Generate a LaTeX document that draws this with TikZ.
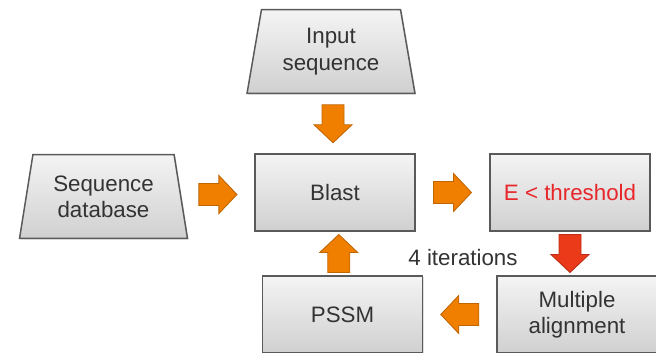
\documentclass[tikz,border=0pt]{standalone}
\usepackage{fontspec}
\setmainfont{Liberation Sans}
\usetikzlibrary{shapes.geometric,calc,shadows}
\definecolor{boxline}{HTML}{5A5A5A}
\definecolor{boxtop}{HTML}{F4F4F4}
\definecolor{boxbot}{HTML}{D0D0D0}
\definecolor{arrorange}{HTML}{F07F00}
\definecolor{arrred}{HTML}{EA3A1A}
\definecolor{threshred}{HTML}{E8262A}
\definecolor{txt}{HTML}{333333}

\begin{document}
\begin{tikzpicture}[x=0.02cm,y=0.02cm,
  every node/.style={font=\fontsize{12.7}{15}\selectfont,text=txt,align=center},
  box/.style={draw=boxline,line width=0.85pt,top color=boxtop,bottom color=boxbot,
    minimum width=3.2cm,minimum height=1.54cm,
    drop shadow={opacity=0.25,shadow xshift=0.7pt,shadow yshift=-0.7pt}},
  datain/.style={box,trapezium,trapezium angle=76,trapezium stretches body,
    minimum width=3.36cm,minimum height=1.68cm},
  blockarrow/.pic={\path[pic actions] (-19,-11) -- (1,-11) -- (1,-19) -- (19,0)
    -- (1,19) -- (1,11) -- (-19,11) -- cycle;}]
\useasboundingbox (0,0) rectangle (656,352);
% sources
\node[datain] (inseq) at (331,300.5) {Input\\sequence};
\node[datain] (seqdb) at (103.5,155.5) {Sequence\\database};
% the search loop
\node[box] (blast) at (335,159.5) {Blast};
\node[box,text=threshred] (ethr) at (570,159.5) {E < threshold};
\node[box] (pssm) at (342.5,37.5) {PSSM};
\node[box] (malign) at (577,37.5) {Multiple\\alignment};
\node (iter) at (463,94) {4 iterations};
% block arrows between the boxes
\foreach \a/\b/\ang in {inseq.south/blast.north/-90, seqdb.east/blast.west/0,
    blast.east/ethr.west/0, pssm.north/blast.south/90, malign.west/pssm.east/180}
  \pic[rotate=\ang,fill=arrorange,draw=arrorange!80!black,line width=0.5pt]
    at ($(\a)!0.5!(\b)$) {blockarrow};
\pic[rotate=-90,fill=arrred,draw=arrred!80!black,line width=0.5pt]
  at ($(ethr.south)!0.5!(ethr.south |- malign.north)$) {blockarrow};
\end{tikzpicture}
\end{document}
